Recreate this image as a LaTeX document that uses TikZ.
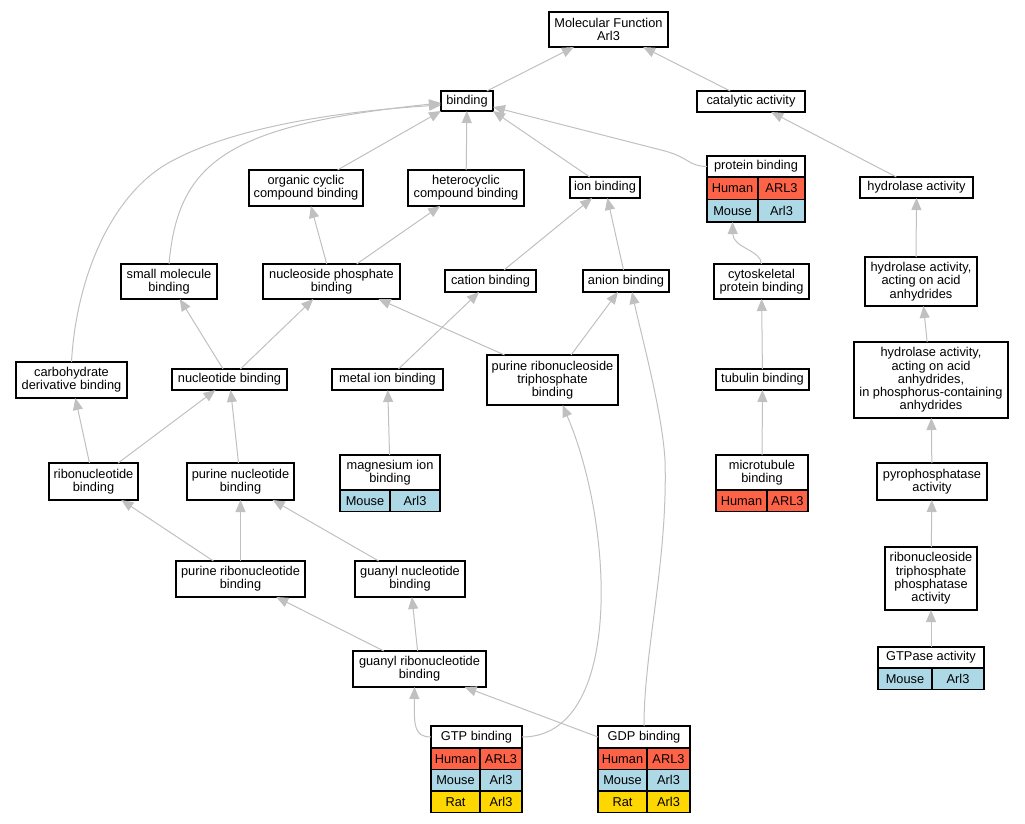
\documentclass[tikz,border=0pt]{standalone}
\usepackage{fontspec}
\setmainfont{Liberation Sans}
\usepackage{tikz}
\usetikzlibrary{arrows.meta,positioning,calc}

\definecolor{edgegrey}{RGB}{192,192,192}
\definecolor{human}{RGB}{255,99,71}
\definecolor{mouse}{RGB}{173,216,230}
\definecolor{rat}{RGB}{255,215,0}

\tikzset{
  term/.style={draw=black, line width=1.2bp, fill=white, align=center, inner sep=0pt, outer sep=0pt,
    font=\fontsize{12.8bp}{13.3bp}\selectfont},
  sz/.style 2 args={minimum width=#1bp, minimum height=#2bp},
  cell/.style={draw=black, line width=1.2bp, inner sep=0pt, outer sep=0pt, anchor=north west,
    minimum height=21.5bp, font=\fontsize{12.8bp}{13.3bp}\selectfont},
  isa/.style={draw=edgegrey, line width=1bp, -{Triangle[length=12bp,width=10bp]}},
}

\begin{document}
\begin{tikzpicture}[x=1bp,y=-1bp]
    \useasboundingbox (0,0) rectangle (1025,824);

    % GO terms
    \node[term, sz={119}{35}] (mf) at (608.5,29.5) {Molecular Function\\Arl3};
    \node[term, sz={52}{20}] (bind) at (467,101) {binding};
    \node[term, sz={108}{21}] (cat) at (751,101.5) {catalytic activity};
    \node[term, sz={114}{36}] (ocb) at (306,188) {organic cyclic\\compound binding};
    \node[term, sz={116}{36}] (hcb) at (466,188) {heterocyclic\\compound binding};
    \node[term, sz={70}{21}] (ion) at (605,187.5) {ion binding};
    \node[term, sz={98}{21}] (prot) at (756,166.5) {protein binding};
    \node[term, sz={113}{21}] (hyd) at (916.5,187.5) {hydrolase activity};
    \node[term, sz={96}{35}] (smb) at (169,281.5) {small molecule\\binding};
    \node[term, sz={137}{35}] (nsp) at (331.5,281.5) {nucleoside phosphate\\binding};
    \node[term, sz={91}{22}] (cation) at (490.5,281) {cation binding};
    \node[term, sz={86}{22}] (anion) at (626,281) {anion binding};
    \node[term, sz={95}{35}] (cyto) at (761.5,281.5) {cytoskeletal\\protein binding};
    \node[term, sz={112}{49}] (hyda) at (921,281.5) {hydrolase activity,\\acting on acid\\anhydrides};
    \node[term, sz={111}{36}] (carb) at (71.5,380) {carbohydrate\\derivative binding};
    \node[term, sz={115}{21}] (nucb) at (229.5,379.5) {nucleotide binding};
    \node[term, sz={111}{21}] (metal) at (387.5,379.5) {metal ion binding};
    \node[term, sz={131}{50}] (prtb) at (552.5,380) {purine ribonucleoside\\triphosphate\\binding};
    \node[term, sz={93}{21}] (tub) at (762.5,379.5) {tubulin binding};
    \node[term, sz={154}{76}] (hydp) at (931,380) {hydrolase activity,\\acting on acid\\anhydrides,\\in phosphorus-containing\\anhydrides};
    \node[term, sz={89}{37}] (ribo) at (93.5,481.5) {ribonucleotide\\binding};
    \node[term, sz={107}{37}] (pnb) at (240.5,481.5) {purine nucleotide\\binding};
    \node[term, sz={100}{35}] (mg) at (390,472.5) {magnesium ion\\binding};
    \node[term, sz={92}{35}] (micro) at (762,472.5) {microtubule\\binding};
    \node[term, sz={110}{37}] (pyro) at (932,481.5) {pyrophosphatase\\activity};
    \node[term, sz={129}{36}] (prb) at (240.5,579) {purine ribonucleotide\\binding};
    \node[term, sz={110}{36}] (gnb) at (410,579) {guanyl nucleotide\\binding};
    \node[term, sz={92}{63}] (rtpa) at (931,578.5) {ribonucleoside\\triphosphate\\phosphatase\\activity};
    \node[term, sz={133}{36}] (grb) at (419.5,669) {guanyl ribonucleotide\\binding};
    \node[term, sz={106}{21}] (gtpase) at (931,657.5) {GTPase activity};
    \node[term, sz={91}{22}] (gtp) at (476.5,737) {GTP binding};
    \node[term, sz={92}{22}] (gdp) at (644,737) {GDP binding};

    % species rows
    \node[cell, fill=human, minimum width=51bp, minimum height=22.5bp] (protH) at (prot.south west) {Human};
    \node[cell, fill=human, minimum width=47bp, minimum height=22.5bp] (protHg) at (protH.north east) {ARL3};
    \node[cell, fill=mouse, minimum width=51bp, minimum height=22.5bp] (protM) at (protH.south west) {Mouse};
    \node[cell, fill=mouse, minimum width=47bp, minimum height=22.5bp] (protMg) at (protM.north east) {Arl3};

    \node[cell, fill=mouse, minimum width=50bp] (mgM) at (mg.south west) {Mouse};
    \node[cell, fill=mouse, minimum width=50bp] (mgMg) at (mgM.north east) {Arl3};

    \node[cell, fill=human, minimum width=51bp] (microH) at (micro.south west) {Human};
    \node[cell, fill=human, minimum width=41bp] (microHg) at (microH.north east) {ARL3};

    \node[cell, fill=mouse, minimum width=54bp] (gtpaseM) at (gtpase.south west) {Mouse};
    \node[cell, fill=mouse, minimum width=52bp] (gtpaseMg) at (gtpaseM.north east) {Arl3};

    \node[cell, fill=human, minimum width=49bp] (gtpH) at (gtp.south west) {Human};
    \node[cell, fill=human, minimum width=42bp] (gtpHg) at (gtpH.north east) {ARL3};
    \node[cell, fill=mouse, minimum width=49bp] (gtpM) at (gtpH.south west) {Mouse};
    \node[cell, fill=mouse, minimum width=42bp] (gtpMg) at (gtpM.north east) {Arl3};
    \node[cell, fill=rat, minimum width=49bp] (gtpR) at (gtpM.south west) {Rat};
    \node[cell, fill=rat, minimum width=42bp] (gtpRg) at (gtpR.north east) {Arl3};

    \node[cell, fill=human, minimum width=49bp] (gdpH) at (gdp.south west) {Human};
    \node[cell, fill=human, minimum width=43bp] (gdpHg) at (gdpH.north east) {ARL3};
    \node[cell, fill=mouse, minimum width=49bp] (gdpM) at (gdpH.south west) {Mouse};
    \node[cell, fill=mouse, minimum width=43bp] (gdpMg) at (gdpM.north east) {Arl3};
    \node[cell, fill=rat, minimum width=49bp] (gdpR) at (gdpM.south west) {Rat};
    \node[cell, fill=rat, minimum width=43bp] (gdpRg) at (gdpR.north east) {Arl3};

    % is_a edges, child -> parent
    \draw[isa] (bind) -- (mf);
    \draw[isa] (cat) -- (mf);
    \draw[isa] (ocb) -- (bind.south west);
    \draw[isa] (hcb) -- (bind);
    \draw[isa] (ion) -- (bind.south east);
    \draw[isa] (prot.west) .. controls (688,166) and (690,158) .. (665,151) -- ($(bind.east)+(0,6)$);
    \draw[isa] (smb.north) .. controls (178,160) and (230,125) .. ($(bind.west)+(0,2)$);
    \draw[isa] (carb.north) .. controls (76,280) and (110,195) .. (170,162)
                            .. controls (230,129) and (330,112) .. ($(bind.west)+(0,4)$);
    \draw[isa] (hyd) -- (cat);
    \draw[isa] (nsp) -- (ocb);
    \draw[isa] (nsp) -- (hcb);
    \draw[isa] (cation) -- (ion);
    \draw[isa] (anion) -- (ion);
    \draw[isa] (cyto.north) .. controls (761,250) and (733,248) .. (protM.south);
    \draw[isa] ($(hyda.north)+(-5,0)$) -- (hyd.south);
    \draw[isa] (nucb) -- (smb);
    \draw[isa] (nucb) -- (nsp);
    \draw[isa] (metal) -- (cation);
    \draw[isa] ($(prtb.north)+(-48,0)$) -- ($(nsp.south)+(47,0)$);
    \draw[isa] (prtb) -- (anion);
    \draw[isa] (tub) -- (cyto);
    \draw[isa] (hydp) -- (hyda);
    \draw[isa] (ribo) -- (carb);
    \draw[isa] (ribo) -- (nucb);
    \draw[isa] (pnb) -- (nucb);
    \draw[isa] (mg) -- (metal);
    \draw[isa] (micro) -- (tub);
    \draw[isa] (pyro) -- (hydp);
    \draw[isa] (prb) -- (ribo);
    \draw[isa] (prb) -- (pnb);
    \draw[isa] (gnb) -- (pnb);
    \draw[isa] (rtpa) -- (pyro);
    \draw[isa] (gtpase) -- (rtpa);
    \draw[isa] (grb) -- (prb);
    \draw[isa] (grb) -- (gnb);
    \draw[isa] (gtp.west) .. controls (414,737) and (414,725) .. ($(grb.south)+(-5,0)$);
    \draw[isa] (gtp.east) .. controls (624,737) and (614,525) .. ($(prtb.south)+(10,0)$);
    \draw[isa] (gdp.west) -- ($(grb.south)+(45,0)$);
    \draw[isa] (gdp.north) .. controls (644,650) and (668,560) .. (665,460)
                           .. controls (662,410) and (640,330) .. ($(anion.south)+(6,0)$);
\end{tikzpicture}
\end{document}
